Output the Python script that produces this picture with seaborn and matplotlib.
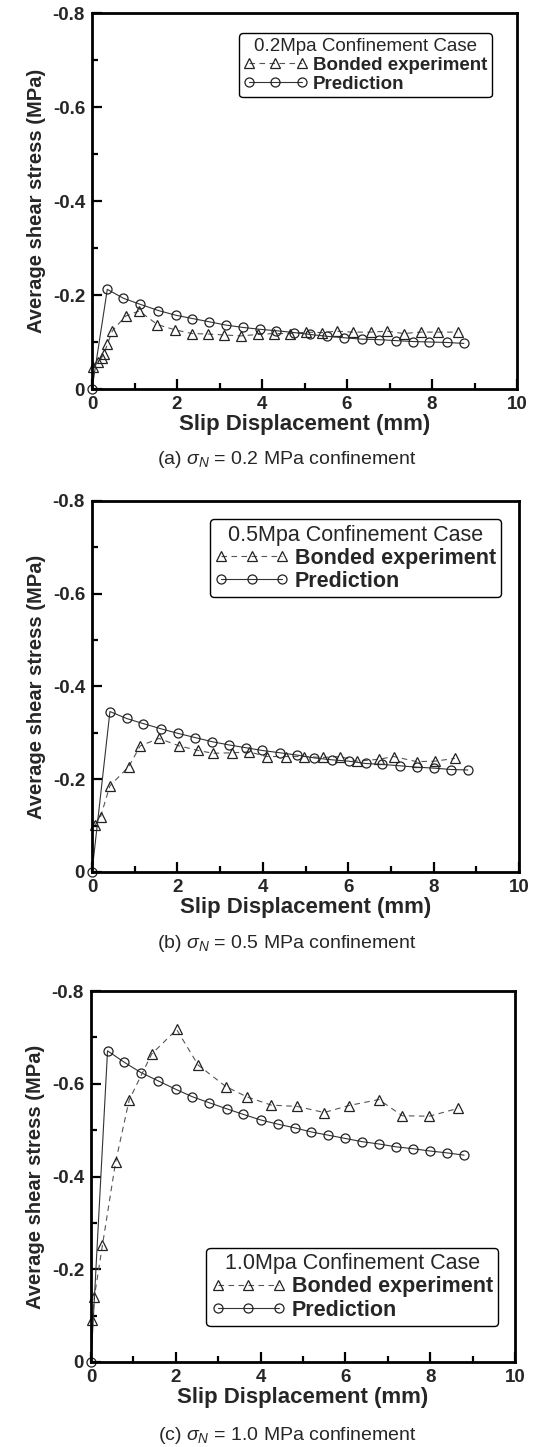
import numpy as np
import matplotlib
matplotlib.use("Agg")
import matplotlib.pyplot as plt
import seaborn as sns
from matplotlib.ticker import MultipleLocator

sns.set_style("ticks")
plt.rcParams["font.family"] = ["Liberation Sans", "DejaVu Sans"]
plt.rcParams["axes.unicode_minus"] = False
plt.rcParams["mathtext.fontset"] = "custom"
plt.rcParams["mathtext.rm"] = "Liberation Sans"
plt.rcParams["mathtext.it"] = "Liberation Sans:italic"

# ---- data ----
# (a) 0.2 MPa
exp_a_x = [0.03, 0.15, 0.23, 0.28, 0.36, 0.48, 0.79, 1.11, 1.54, 1.95, 2.35, 2.72, 3.11,
           3.50, 3.90, 4.28, 4.66, 5.04, 5.42, 5.76, 6.15, 6.56, 6.95, 7.33, 7.73, 8.15, 8.60]
exp_a_y = [-0.047, -0.058, -0.067, -0.074, -0.095, -0.124, -0.155, -0.166, -0.137, -0.126,
           -0.118, -0.117, -0.115, -0.113, -0.116, -0.118, -0.118, -0.121, -0.120, -0.123,
           -0.121, -0.121, -0.123, -0.118, -0.121, -0.121, -0.121]
pred_a_x = [0, 0.36, 0.74, 1.14, 1.56, 1.97, 2.36, 2.76, 3.15, 3.55, 3.95, 4.34, 4.76, 5.14,
            5.54, 5.94, 6.35, 6.75, 7.15, 7.55, 7.94, 8.35, 8.75]
pred_a_y = [0, -0.212, -0.193, -0.180, -0.167, -0.157, -0.150, -0.143, -0.136, -0.131,
            -0.127, -0.124, -0.120, -0.116, -0.112, -0.109, -0.106, -0.105, -0.103, -0.101,
            -0.100, -0.099, -0.097]

# (b) 0.5 MPa
exp_b_x = [0.07, 0.20, 0.42, 0.86, 1.13, 1.57, 2.04, 2.49, 2.83, 3.27, 3.68, 4.09, 4.54,
           4.96, 5.40, 5.81, 6.21, 6.71, 7.07, 7.60, 8.03, 8.50]
exp_b_y = [-0.101, -0.119, -0.186, -0.227, -0.272, -0.288, -0.272, -0.262, -0.256, -0.257,
           -0.259, -0.249, -0.249, -0.249, -0.247, -0.249, -0.239, -0.243, -0.249, -0.238,
           -0.239, -0.245]
pred_b_x = [0, 0.42, 0.81, 1.20, 1.61, 2.01, 2.41, 2.81, 3.21, 3.60, 3.99, 4.41, 4.81, 5.21,
            5.61, 6.01, 6.41, 6.80, 7.21, 7.61, 8.01, 8.41, 8.80]
pred_b_y = [0, -0.346, -0.331, -0.320, -0.309, -0.299, -0.290, -0.281, -0.274, -0.268,
            -0.262, -0.257, -0.252, -0.246, -0.242, -0.239, -0.234, -0.232, -0.229, -0.226,
            -0.224, -0.221, -0.220]

# (c) 1.0 MPa
exp_c_x = [0.03, 0.08, 0.27, 0.58, 0.90, 1.43, 2.02, 2.53, 3.18, 3.67, 4.25, 4.87, 5.50,
           6.08, 6.79, 7.34, 7.98, 8.66]
exp_c_y = [-0.091, -0.141, -0.252, -0.431, -0.565, -0.664, -0.717, -0.640, -0.594, -0.572,
           -0.554, -0.551, -0.538, -0.553, -0.566, -0.531, -0.530, -0.547]
pred_c_x = [0, 0.39, 0.79, 1.18, 1.59, 2.00, 2.39, 2.79, 3.20, 3.59, 4.00, 4.40, 4.80, 5.20,
            5.60, 6.00, 6.40, 6.80, 7.19, 7.59, 7.99, 8.39, 8.80]
pred_c_y = [0, -0.671, -0.646, -0.624, -0.606, -0.588, -0.572, -0.559, -0.546, -0.534,
            -0.522, -0.513, -0.505, -0.496, -0.489, -0.482, -0.475, -0.470, -0.464, -0.460,
            -0.455, -0.451, -0.446]

cases = ["0.2Mpa Confinement Case", "0.5Mpa Confinement Case", "1.0Mpa Confinement Case"]
captions = [r"(a) $\sigma_N$ = 0.2 MPa confinement",
            r"(b) $\sigma_N$ = 0.5 MPa confinement",
            r"(c) $\sigma_N$ = 1.0 MPa confinement"]
xtick_vals = [0, 2, 4, 6, 8, 10]
xtick_labels = ["0", "2", "4", "6", "8", "10"]
ytick_vals = [0, -0.2, -0.4, -0.6, -0.8]
ytick_labels = ["0", "-0.2", "-0.4", "-0.6", "-0.8"]

exp_x = [exp_a_x, exp_b_x, exp_c_x]
exp_y = [exp_a_y, exp_b_y, exp_c_y]
pred_x = [pred_a_x, pred_b_x, pred_c_x]
pred_y = [pred_a_y, pred_b_y, pred_c_y]

# ---- layout (pixels of a 537x1447 canvas) ----
W, H = 537, 1447
fig = plt.figure(figsize=(W / 100, H / 100), dpi=100)
boxes = [(92, 13, 517, 389), (92, 501, 519, 872), (91, 991, 515, 1362)]
legend_loc = ["upper right", "upper right", "lower right"]
legend_anchor = [(0.941, 0.947), (0.958, 0.951), (0.960, 0.097)]
legend_size = [13.5, 15.5, 15.5]
caption_y = [460, 944, 1436]

for i in range(3):
    l, t, r, b = boxes[i]
    ax = fig.add_axes([l / W, 1 - b / H, (r - l) / W, (b - t) / H])

    sns.lineplot(x=exp_x[i], y=exp_y[i], ax=ax, sort=False, estimator=None,
                 color="#555555", linewidth=0.8, linestyle=(0, (5, 4)),
                 marker="^", markersize=7.5, markerfacecolor="none",
                 markeredgecolor="#222222", markeredgewidth=0.9,
                 clip_on=False, label="Bonded experiment")
    sns.lineplot(x=pred_x[i], y=pred_y[i], ax=ax, sort=False, estimator=None,
                 color="#333333", linewidth=0.8, linestyle="-",
                 marker="o", markersize=6.5, markerfacecolor="none",
                 markeredgecolor="#222222", markeredgewidth=0.9,
                 clip_on=False, label="Prediction")

    ax.set_xlim(0, 10)
    ax.set_ylim(0, -0.8)
    ax.set_xticks(xtick_vals)
    ax.set_xticklabels(xtick_labels)
    ax.set_yticks(ytick_vals)
    ax.set_yticklabels(ytick_labels)
    ax.xaxis.set_minor_locator(MultipleLocator(1))
    ax.yaxis.set_minor_locator(MultipleLocator(0.1))
    ax.tick_params(which="both", direction="in", top=False, right=False,
                   width=1.6, color="black")
    ax.tick_params(which="major", length=7, labelsize=13.5, pad=5)
    ax.tick_params(which="minor", length=4.5)
    for lab in ax.get_xticklabels() + ax.get_yticklabels():
        lab.set_fontweight("bold")
    for sp in ax.spines.values():
        sp.set_linewidth(2)
        sp.set_color("black")

    ax.set_xlabel("Slip Displacement (mm)", fontsize=16, fontweight="bold", labelpad=1)
    ax.set_ylabel("Average shear stress (MPa)", fontsize=14.5, fontweight="bold", labelpad=5)

    leg = ax.legend(loc=legend_loc[i], bbox_to_anchor=legend_anchor[i], borderaxespad=0,
                    title=cases[i], title_fontsize=legend_size[i],
                    prop={"weight": "bold", "size": legend_size[i]},
                    numpoints=3, handlelength=3.4, handletextpad=0.3,
                    labelspacing=0.1, borderpad=0.25, fancybox=True,
                    framealpha=1, edgecolor="black")
    leg.get_frame().set_linewidth(1.0)

    fig.text(287 / W, 1 - caption_y[i] / H, captions[i], ha="center", va="center",
             fontsize=14)

fig.savefig("out.png", dpi=100)
